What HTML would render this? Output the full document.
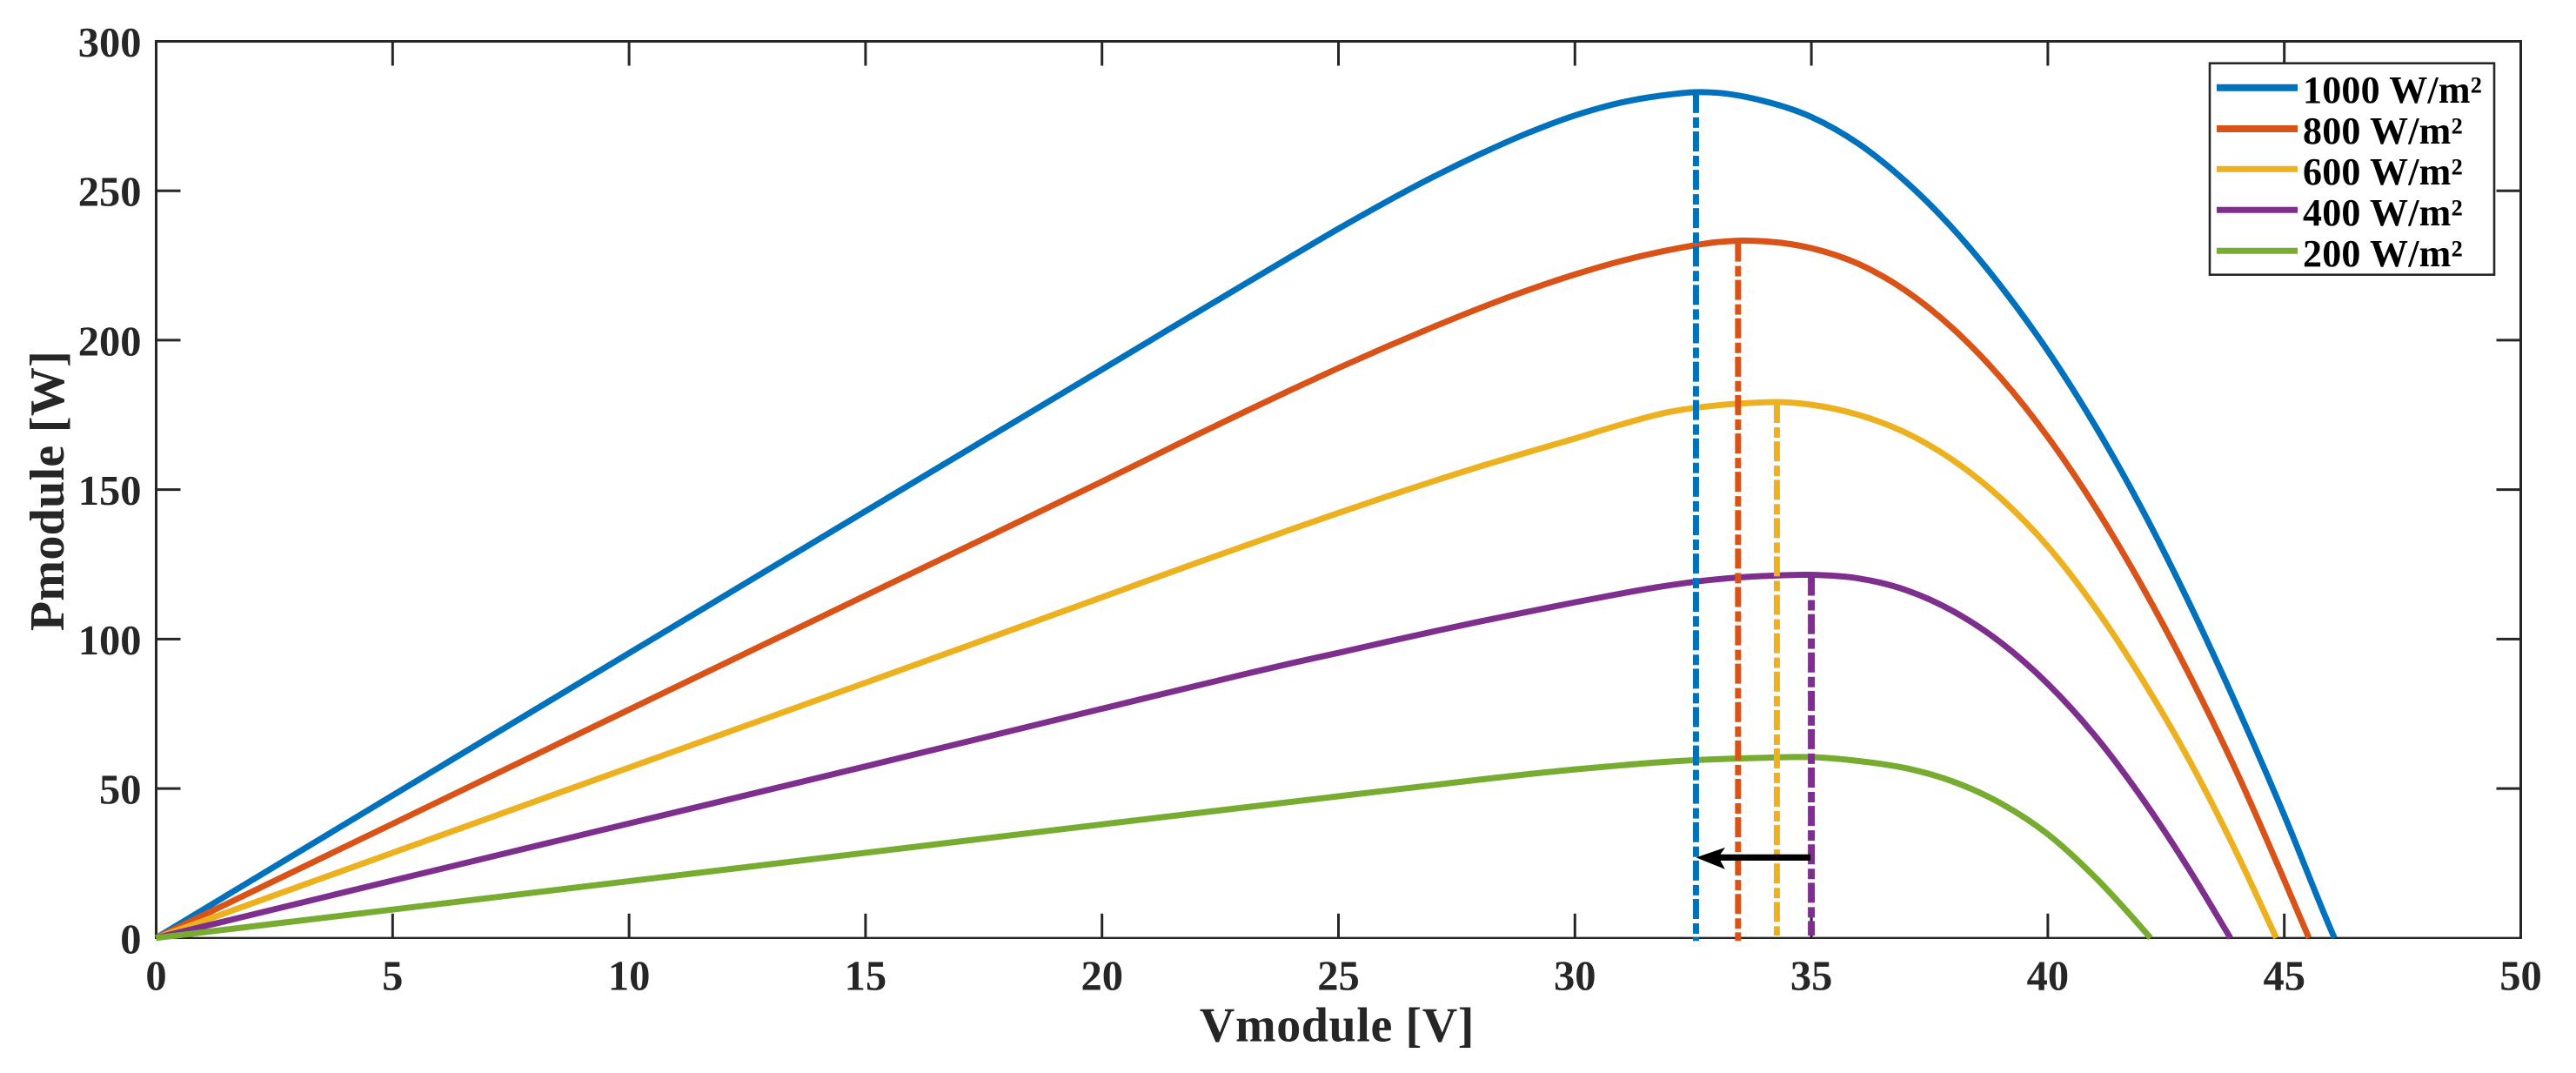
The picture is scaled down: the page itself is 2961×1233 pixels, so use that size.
<!DOCTYPE html>
<html lang="en">
<head>
<meta charset="utf-8">
<title>Pmodule vs Vmodule by irradiance</title>
<style>
  html, body { margin: 0; padding: 0; background: #fff; }
  svg { display: block; }
  text { font-family: "Liberation Serif", "DejaVu Serif", serif; font-weight: bold; }
  .tick-label { font-size: 48.5px; fill: #262626; }
  .axis-title { font-size: 56px; fill: #262626; }
  .legend-text { font-size: 44px; fill: #000; letter-spacing: 0.2px; }
</style>
</head>
<body>
<svg id="chart" xmlns="http://www.w3.org/2000/svg" width="2961" height="1233" viewBox="0 0 2961 1233">
  <rect x="0" y="0" width="2961" height="1233" fill="#ffffff"/>
  <g id="axes"></g>
  <g id="series"></g>
  <g id="markers"></g>
  <g id="annotation"></g>

  <text class="axis-title" x="1537" y="1196.5" text-anchor="middle" style="letter-spacing:0.6px">Vmodule [V]</text>
  <text class="axis-title" transform="translate(73,564) rotate(-90)" text-anchor="middle" style="letter-spacing:0.3px">Pmodule [W]</text>

  <g>
    <rect x="2540" y="72.7" width="327" height="243" fill="#ffffff" stroke="#262626" stroke-width="2.6"/>
    <g>
      <line x1="2548" x2="2641" y1="100.7" y2="100.7" stroke="#0072BD" stroke-width="8"/>
      <text class="legend-text" x="2647" y="118">1000 W/m²</text>
    </g>
    <g>
      <line x1="2548" x2="2641" y1="148" y2="148" stroke="#D95319" stroke-width="8"/>
      <text class="legend-text" x="2647" y="165">800 W/m²</text>
    </g>
    <g>
      <line x1="2548" x2="2641" y1="194.3" y2="194.3" stroke="#EDB120" stroke-width="7"/>
      <text class="legend-text" x="2647" y="212">600 W/m²</text>
    </g>
    <g>
      <line x1="2548" x2="2641" y1="241.3" y2="241.3" stroke="#7E2F8E" stroke-width="7"/>
      <text class="legend-text" x="2647" y="259">400 W/m²</text>
    </g>
    <g>
      <line x1="2548" x2="2641" y1="288.3" y2="288.3" stroke="#77AC30" stroke-width="7"/>
      <text class="legend-text" x="2647" y="306">200 W/m²</text>
    </g>
  </g>
</svg>

<script>
// ---- chart data ----
const xTickValues = [0, 5, 10, 15, 20, 25, 30, 35, 40, 45, 50];
const yTickValues = [0, 50, 100, 150, 200, 250, 300];

const v1000 = [0, 5, 10, 15, 20, 21, 22, 23, 24, 25, 26, 27, 28, 29, 30, 31, 32, 32.56, 33, 34, 35, 36, 37, 38, 39, 40, 41, 42, 43, 44, 45, 46, 46.06];
const p1000 = [0, 47.7, 95.3, 142.8, 190.2, 199.7, 209.2, 218.6, 228, 237.3, 246.2, 254.6, 262.3, 269.3, 275.2, 279.6, 282.2, 283, 282.8, 280, 274.7, 265.7, 253, 237.2, 218.2, 196.4, 171.4, 143.2, 111.7, 77.5, 41, 2.2, 0];

const v800 = [0, 5, 10, 15, 20, 21, 22, 23, 24, 25, 26, 27, 28, 29, 30, 31, 32, 33, 33.45, 34, 35, 36, 37, 38, 39, 40, 41, 42, 43, 44, 45, 45.52];
const p800 = [0, 38.2, 76.4, 114.6, 152.7, 160.5, 168.3, 175.9, 183.4, 190.7, 197.7, 204.4, 210.8, 216.7, 222, 226.6, 230.2, 232.8, 233.3, 233.1, 230.8, 225.5, 216.5, 203.8, 187.5, 167.6, 144.2, 117.5, 87.8, 55.3, 19.3, 0];

const v600 = [0, 5, 10, 15, 20, 22, 24, 25, 26, 27, 28, 29, 30, 31, 32, 33, 34, 34.27, 35, 36, 37, 38, 39, 40, 41, 42, 43, 44, 44.83];
const p600 = [0, 28.5, 57, 85.4, 114, 125.5, 136.7, 142.2, 147.6, 152.8, 157.8, 162.5, 167.1, 171.9, 176, 178.2, 179.2, 179.3, 178.4, 175, 169, 159.8, 147.2, 131, 110.5, 86.4, 59.2, 28.2, 0];

const v400 = [0, 5, 10, 15, 20, 23, 24, 25, 26, 27, 28, 29, 30, 31, 32, 33, 34, 35, 36, 37, 38, 39, 40, 41, 42, 43, 43.86];
const p400 = [0, 19.2, 38.3, 57.4, 76.7, 88.2, 91.9, 95.4, 99, 102.5, 105.9, 109.1, 112.3, 115.3, 118, 120, 121.1, 121.5, 120.3, 116.4, 109.3, 98.9, 85, 67.6, 46.6, 22.6, 0];

const v200 = [0, 5, 10, 15, 20, 25, 28, 29, 30, 31, 32, 33, 34, 35, 36, 37, 38, 39, 40, 41, 42, 42.17];
const p200 = [0, 9.5, 19, 28.5, 38, 47.4, 53, 54.8, 56.4, 57.8, 59, 59.8, 60.3, 60.5, 59.2, 56.8, 52.3, 45.1, 34.7, 20.3, 3.1, 0];

const mppVoltages = [32.56, 33.45, 34.27, 35];
const mppPowers = [283, 233.3, 179.3, 121.5];
const mppFloor = [-1, -1, 0.8, 0.8];

const arrowFromV = 35;
const arrowToV = 32.56;
const arrowP = 26.9;

// ---- axis functions ----
const xMin = 0, xMax = 50, yMin = 0, yMax = 300;
const plotLeft = 179.5, plotRight = 2897.5, plotTop = 47.5, plotBottom = 1077.8;
function X(v) { return plotLeft + (v - xMin) / (xMax - xMin) * (plotRight - plotLeft); }
function Y(p) { return plotBottom - (p - yMin) / (yMax - yMin) * (plotBottom - plotTop); }

const NS = 'http://www.w3.org/2000/svg';
const axesG = document.getElementById('axes');
const seriesG = document.getElementById('series');
const markersG = document.getElementById('markers');
const annotationG = document.getElementById('annotation');
const axisColor = '#262626';
const tickLen = 28;

function svgEl(tag, parent) {
  const el = document.createElementNS(NS, tag);
  parent.appendChild(el);
  return el;
}
function setLine(el, x1, y1, x2, y2, color, width) {
  el.setAttribute('x1', x1);
  el.setAttribute('y1', y1);
  el.setAttribute('x2', x2);
  el.setAttribute('y2', y2);
  el.setAttribute('stroke', color);
  el.setAttribute('stroke-width', width);
}

// plot box
const box = svgEl('path', axesG);


box.setAttribute('fill', 'none');
box.setAttribute('stroke', axisColor);
box.setAttribute('stroke-width', '3');
box.setAttribute('d', 'M' + plotLeft + ' ' + plotBottom + 'V' + plotTop + 'H' + plotRight + 'V' + plotBottom);
const baseLine = svgEl('line', axesG);


setLine(baseLine, plotLeft - 1.5, plotBottom, plotRight + 1.5, plotBottom, axisColor, 2.4);

// ticks and labels
xTickValues.forEach(function (t) {
  const px = X(t);
  if (t !== xMin && t !== xMax) {
    const low = svgEl('line', axesG);
    
    
    setLine(low, px, plotBottom, px, plotBottom - tickLen, axisColor, 3);
    const high = svgEl('line', axesG);
    
    
    setLine(high, px, plotTop, px, plotTop + tickLen, axisColor, 3);
  }
  const label = svgEl('text', axesG);
  
  
  label.setAttribute('class', 'tick-label');
  label.setAttribute('x', px);
  label.setAttribute('y', 1137.5);
  label.setAttribute('text-anchor', 'middle');
  label.textContent = String(t);
});
yTickValues.forEach(function (t) {
  const py = Y(t);
  if (t !== yMin && t !== yMax) {
    const low = svgEl('line', axesG);
    
    
    setLine(low, plotLeft, py, plotLeft + tickLen, py, axisColor, 3);
    const high = svgEl('line', axesG);
    
    
    setLine(high, plotRight, py, plotRight - tickLen, py, axisColor, 3);
  }
  const label = svgEl('text', axesG);
  
  
  label.setAttribute('class', 'tick-label');
  label.setAttribute('x', 162.5);
  label.setAttribute('y', py + 17.5);
  label.setAttribute('text-anchor', 'end');
  label.textContent = String(t);
});

// smooth path through the read points (Hermite in screen space)
function curvePath(vs, ps) {
  const xs = vs.map(X);
  const ys = ps.map(Y);
  const n = xs.length;
  const m = [];
  for (let i = 0; i < n; i++) {
    if (i === 0) {
      m.push((ys[1] - ys[0]) / (xs[1] - xs[0]));
    } else if (i === n - 1) {
      m.push((ys[n - 1] - ys[n - 2]) / (xs[n - 1] - xs[n - 2]));
    } else {
      const h0 = xs[i] - xs[i - 1];
      const h1 = xs[i + 1] - xs[i];
      const d0 = (ys[i] - ys[i - 1]) / h0;
      const d1 = (ys[i + 1] - ys[i]) / h1;
      m.push((h1 * d0 + h0 * d1) / (h0 + h1));
    }
  }
  let d = 'M' + xs[0].toFixed(2) + ' ' + ys[0].toFixed(2);
  for (let i = 0; i < n - 1; i++) {
    const h = xs[i + 1] - xs[i];
    d += 'C' + (xs[i] + h / 3).toFixed(2) + ' ' + (ys[i] + m[i] * h / 3).toFixed(2) +
         ' ' + (xs[i + 1] - h / 3).toFixed(2) + ' ' + (ys[i + 1] - m[i + 1] * h / 3).toFixed(2) +
         ' ' + xs[i + 1].toFixed(2) + ' ' + ys[i + 1].toFixed(2);
  }
  return d;
}

function drawCurve(vs, ps, color, name) {
  const path = svgEl('path', seriesG);
  
  
  path.setAttribute('d', curvePath(vs, ps));
  path.setAttribute('fill', 'none');
  path.setAttribute('stroke', color);
  path.setAttribute('stroke-width', '7');
  path.setAttribute('stroke-linejoin', 'round');
}
drawCurve(v1000, p1000, '#0072BD', 'curve-1000');
drawCurve(v800, p800, '#D95319', 'curve-800');
drawCurve(v600, p600, '#EDB120', 'curve-600');
drawCurve(v400, p400, '#7E2F8E', 'curve-400');
drawCurve(v200, p200, '#77AC30', 'curve-200');

// dash-dot maximum power point drop lines
const mppColors = ['#0072BD', '#D95319', '#EDB120', '#7E2F8E'];
const mppWidths = [7, 7, 7, 8];
mppVoltages.forEach(function (v, i) {
  const drop = svgEl('line', markersG);
  
  
  setLine(drop, X(v), Y(mppPowers[i]) + 1, X(v), Y(mppFloor[i]), mppColors[i], mppWidths[i]);
  drop.setAttribute('stroke-dasharray', '23 5 12 4.1');
});

// arrow showing the MPP shift
const ax0 = X(arrowFromV), ax1 = X(arrowToV), ay = Y(arrowP);
const arrow = svgEl('polygon', annotationG);


arrow.setAttribute('fill', '#000000');
arrow.setAttribute('points', [
  [ax0 - 1, ay - 3.6],
  [ax1 + 28, ay - 3.6],
  [ax1 + 33.5, ay - 11.5],
  [ax1, ay],
  [ax1 + 33.5, ay + 13.5],
  [ax1 + 28, ay + 3.6],
  [ax0 - 1, ay + 3.6]
].map(function (q) { return q[0].toFixed(1) + ',' + q[1].toFixed(1); }).join(' '));
</script>
</body>
</html>
